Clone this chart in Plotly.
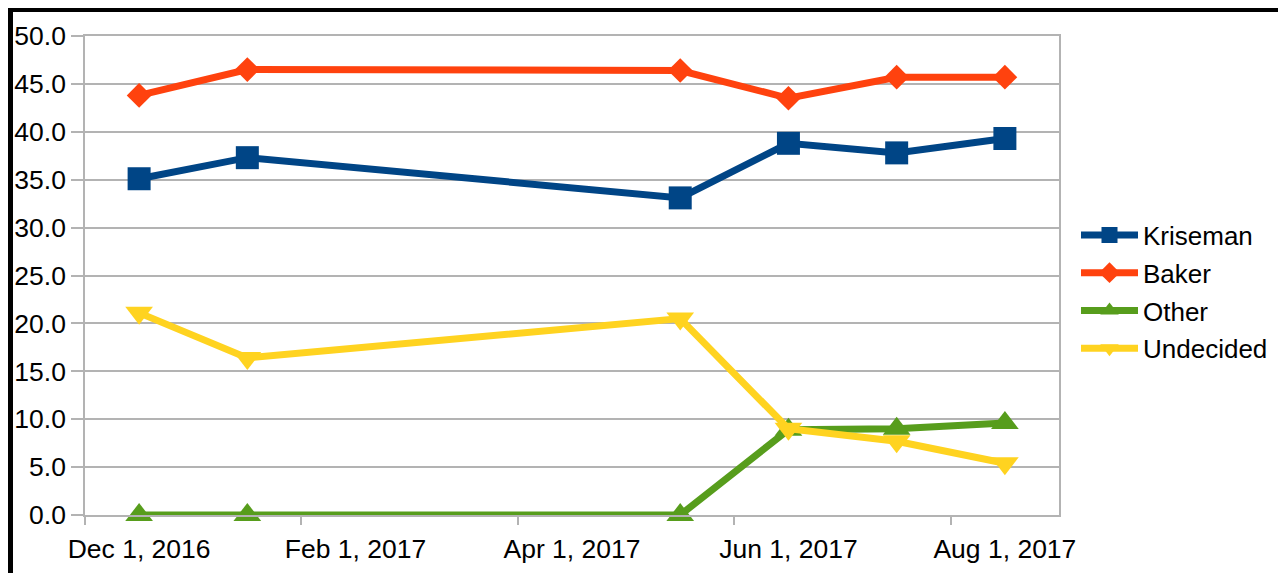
import plotly.graph_objects as go

# ---- data ----
months = ["2016-12", "2017-01", "2017-02", "2017-03", "2017-04",
          "2017-05", "2017-06", "2017-07", "2017-08"]
poll_months = ["2016-12", "2017-01", "2017-05", "2017-06", "2017-07", "2017-08"]
kriseman = [35.1, 37.3, 33.1, 38.8, 37.8, 39.3]
baker = [43.8, 46.5, 46.4, 43.5, 45.7, 45.7]
other = [0.0, 0.0, 0.0, 8.9, 9.0, 9.6]
undecided = [21.1, 16.4, 20.5, 9.0, 7.7, 5.4]
tick_months = ["2016-12", "2017-02", "2017-04", "2017-06", "2017-08"]
tick_labels = ["Dec 1, 2016", "Feb 1, 2017", "Apr 1, 2017", "Jun 1, 2017", "Aug 1, 2017"]

# month-based axis: each month is one unit, points sit mid-month
x_pts = [months.index(m) + 0.5 for m in poll_months]
x_lbl = [months.index(m) + 0.5 for m in tick_months]
x_ticks = [months.index(m) for m in tick_months]

series = [
    ("Kriseman", kriseman, "#004586", "square", 23),
    ("Baker", baker, "#ff420e", "diamond", 19),
    ("Other", other, "#579d1c", "triangle-up", 24),
    ("Undecided", undecided, "#ffd320", "triangle-down", 24),
]

fig = go.Figure()
for name, vals, col, sym, sz in series:
    fig.add_trace(go.Scatter(
        x=x_pts, y=vals, name=name, mode="lines+markers", legendgroup=name,
        line=dict(color=col, width=7), cliponaxis=False,
        marker=dict(symbol=sym, size=sz, color=col, line=dict(width=0)),
    ))

# page has an 8px body margin, so figure coords = page coords - 8
OFF = 8
W, H = 1286 - OFF, 573 - OFF
L, R, T, B = 85 - OFF, 1059 - OFF, 36 - OFF, 515 - OFF
fig.update_layout(
    width=W, height=H,
    margin=dict(l=L, r=W - R, t=T, b=H - B, pad=0, autoexpand=False),
    paper_bgcolor="white", plot_bgcolor="white",
    font=dict(family="Liberation Sans", size=26.5, color="#000000"),
    showlegend=True,
    legend=dict(x=(1076 - OFF - L) / (R - L), y=(B - (292 - OFF)) / (B - T),
                xanchor="left", yanchor="middle",
                font=dict(size=26), tracegroupgap=1, itemwidth=57,
                bgcolor="rgba(0,0,0,0)"),
)
fig.update_xaxes(
    range=[0, len(months)], tickvals=x_lbl, ticktext=tick_labels,
    ticks="outside", ticklen=9, tickcolor="rgba(0,0,0,0)", automargin=False,
    minor=dict(tickvals=x_ticks, ticks="outside", ticklen=8,
               tickcolor="#b3b3b3", tickwidth=1.5, showgrid=False),
    showgrid=False, zeroline=False,
    showline=True, linecolor="#b3b3b3", linewidth=1.5, mirror=True,
)
fig.update_yaxes(
    range=[0, 50], dtick=5, tick0=0, tickformat=".1f", automargin=False,
    ticks="outside", ticklen=12, tickcolor="#b3b3b3", tickwidth=1.5,
    showgrid=True, gridcolor="#b3b3b3", gridwidth=1.5, zeroline=False,
    showline=True, linecolor="#b3b3b3", linewidth=1.5, mirror=True,
)

# black frame around the chart image (top, left, right)
def px(xp):
    return (xp - OFF - L) / (R - L)

def py(yp):
    return (B - (yp - OFF)) / (B - T)

frame = [
    (px(8), py(12), px(1285), py(6)),
    (px(8), py(573 + 5), px(13), py(6)),
    (px(1283), py(573 + 5), px(1285), py(6)),
]
for x0, y0, x1, y1 in frame:
    fig.add_shape(type="rect", xref="paper", yref="paper",
                  x0=x0, y0=y0, x1=x1, y1=y1,
                  fillcolor="black", line=dict(width=0), layer="above")

fig.write_html("out.html")
